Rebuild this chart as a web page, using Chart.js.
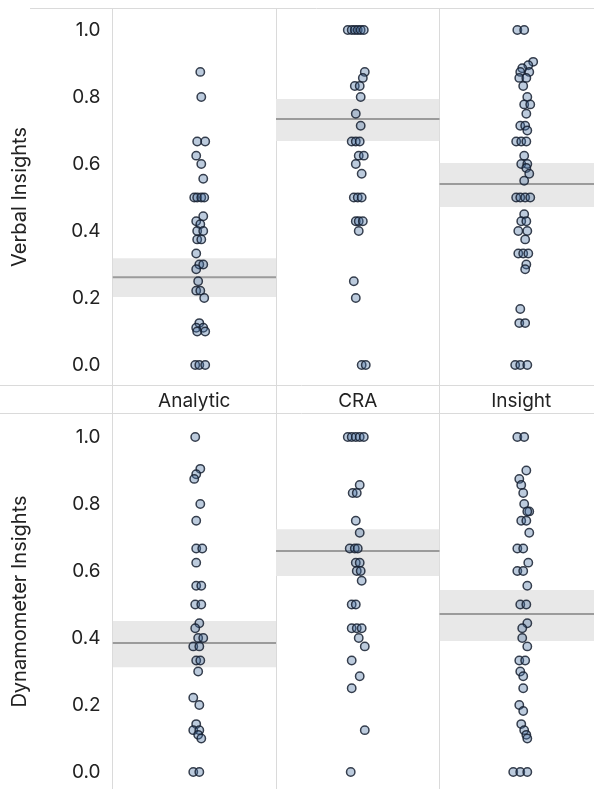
<!DOCTYPE html>
<html>
<head>
<meta charset="utf-8">
<script src="https://cdn.jsdelivr.net/npm/chart.js@4.4.1/dist/chart.umd.min.js"></script>
<style>
  html, body { margin: 0; padding: 0; background: #fff; overflow: hidden; width: 594px; height: 789px; }
  .panel { position: absolute; left: 0; }
  #verbalWrap { top: 0; }
  #dynWrap { top: 414px; }
</style>
</head>
<body>
<div id="verbalWrap" class="panel"><canvas id="verbal" width="603" height="414"></canvas></div>
<div id="dynWrap" class="panel"><canvas id="dyn" width="603" height="375"></canvas></div>
<script>
// Conditions shown as columns, and the y tick values
const categories = ['Analytic', 'CRA', 'Insight'];
const yTicks = [0, 0.2, 0.4, 0.6, 0.8, 1.0];

// Verbal insights: proportion per participant (y) and horizontal jitter within the column
const verbalAnalyticY = [0.875, 0.8, 0.667, 0.667, 0.625, 0.6, 0.556, 0.5, 0.5, 0.5, 0.5, 0.444, 0.429, 0.42, 0.4, 0.4, 0.375, 0.375, 0.333, 0.3, 0.3, 0.286, 0.25, 0.222, 0.222, 0.2, 0.125, 0.111, 0.111, 0.1, 0.1, 0, 0, 0];
const verbalAnalyticJitter = [0.037, 0.043, 0.018, 0.067, 0.012, 0.043, 0.055, 0.0, 0.018, 0.043, 0.061, 0.055, 0.012, 0.037, 0.018, 0.055, 0.018, 0.043, 0.012, 0.031, 0.055, 0.012, 0.024, 0.012, 0.037, 0.061, 0.031, 0.012, 0.055, 0.018, 0.067, 0.006, 0.031, 0.067];

const verbalCraY = [1, 1, 1, 1, 1, 1, 0.875, 0.857, 0.833, 0.833, 0.8, 0.75, 0.714, 0.667, 0.667, 0.667, 0.625, 0.625, 0.6, 0.571, 0.5, 0.5, 0.5, 0.429, 0.429, 0.429, 0.4, 0.25, 0.2, 0, 0];
const verbalCraJitter = [-0.061, -0.037, -0.018, 0, 0.018, 0.037, 0.043, 0.031, -0.018, 0.012, 0.018, -0.012, 0.018, -0.037, -0.012, 0.012, 0.006, 0.037, -0.012, 0.024, -0.024, 0, 0.024, -0.012, 0.006, 0.031, 0.006, -0.024, -0.012, 0.024, 0.049];

const verbalInsightY = [1, 1, 0.905, 0.895, 0.886, 0.875, 0.875, 0.857, 0.857, 0.833, 0.8, 0.778, 0.778, 0.75, 0.714, 0.714, 0.7, 0.667, 0.667, 0.667, 0.625, 0.6, 0.6, 0.588, 0.571, 0.55, 0.5, 0.5, 0.5, 0.5, 0.45, 0.429, 0.429, 0.4, 0.4, 0.375, 0.333, 0.333, 0.333, 0.3, 0.286, 0.167, 0.125, 0.125, 0, 0, 0];
const verbalInsightJitter = [-0.024, 0.018, 0.073, 0.043, 0.006, -0.006, 0.049, -0.012, 0.031, 0.012, 0.037, 0.018, 0.055, 0.031, -0.006, 0.024, 0.037, -0.031, 0, 0.031, 0.018, 0, 0.037, 0.031, 0.049, 0.018, -0.031, -0.006, 0.024, 0.055, 0.018, 0, 0.031, -0.018, 0.037, 0.024, -0.018, 0.012, 0.043, 0.031, 0.024, -0.006, -0.012, 0.024, -0.037, -0.006, 0.037];

// Dynamometer insights
const dynAnalyticY = [1, 0.905, 0.889, 0.875, 0.8, 0.75, 0.667, 0.667, 0.625, 0.556, 0.556, 0.5, 0.5, 0.444, 0.429, 0.4, 0.4, 0.375, 0.375, 0.333, 0.333, 0.3, 0.222, 0.2, 0.143, 0.125, 0.125, 0.111, 0.1, 0, 0];
const dynAnalyticJitter = [0.006, 0.037, 0.012, 0, 0.037, 0.012, 0.012, 0.049, 0.012, 0.012, 0.043, 0.006, 0.043, 0.031, 0.006, 0.024, 0.055, -0.006, 0.031, 0.012, 0.037, 0.024, -0.006, 0.031, 0.012, -0.006, 0.031, 0.024, 0.043, -0.006, 0.031];

const dynCraY = [1, 1, 1, 1, 1, 0.857, 0.833, 0.833, 0.75, 0.714, 0.667, 0.667, 0.667, 0.625, 0.625, 0.6, 0.6, 0.571, 0.5, 0.5, 0.429, 0.429, 0.429, 0.4, 0.375, 0.333, 0.286, 0.25, 0.125, 0];
const dynCraJitter = [-0.061, -0.037, -0.012, 0.012, 0.037, 0.012, -0.031, -0.006, -0.012, 0.012, -0.049, -0.018, 0, -0.012, 0.012, -0.006, 0.018, 0.024, -0.037, -0.012, -0.037, -0.006, 0.024, 0.006, 0.043, -0.037, 0.012, -0.037, 0.043, -0.043];

const dynInsightY = [1, 1, 0.9, 0.875, 0.857, 0.833, 0.8, 0.778, 0.778, 0.75, 0.75, 0.714, 0.667, 0.667, 0.625, 0.6, 0.6, 0.556, 0.5, 0.5, 0.444, 0.429, 0.4, 0.375, 0.333, 0.333, 0.3, 0.286, 0.25, 0.2, 0.182, 0.143, 0.125, 0.111, 0.1, 0, 0, 0];
const dynInsightJitter = [-0.024, 0.018, 0.031, -0.012, 0, 0.012, 0.018, 0.049, 0.037, 0, 0.031, 0.049, -0.024, 0.012, 0.043, -0.024, 0.012, 0.037, -0.006, 0.031, 0.037, 0.006, 0.006, 0.037, -0.012, 0.024, -0.006, 0.012, 0.012, -0.012, 0.012, 0, 0.018, 0.031, 0.037, -0.049, -0.006, 0.037];

// Condition means with their confidence bands
const verbalMean = [0.262, 0.734, 0.540];
const verbalLow = [0.203, 0.669, 0.472];
const verbalHigh = [0.319, 0.794, 0.603];
const dynMean = [0.385, 0.660, 0.472];
const dynLow = [0.313, 0.585, 0.391];
const dynHigh = [0.451, 0.725, 0.543];

const FONT = 'Inter, "Liberation Sans", Arial, sans-serif';
const GRID = '#dadada';
const TEXT = '#222';

// Horizontal separators: panel top and the condition strip
const frameLines = {
  id: 'frameLines',
  afterDraw(chart, args, opts) {
    if (!opts.enabled) return;
    const { ctx, chartArea } = chart;
    ctx.save();
    ctx.strokeStyle = GRID;
    ctx.lineWidth = 1;
    const lines = [
      { y: Math.round(chartArea.top) + 0.5, x0: 30 },
      { y: Math.round(chartArea.bottom) - 0.5, x0: 0 },
      { y: chart.height - 0.5, x0: 0 }
    ];
    for (const l of lines) {
      ctx.beginPath();
      ctx.moveTo(l.x0, l.y);
      ctx.lineTo(chart.width, l.y);
      ctx.stroke();
    }
    ctx.restore();
  }
};

// Keep the plot area edge-to-edge: tick labels may overhang it
function noOverhang(ax) {
  ax.paddingTop = 0;
  ax.paddingBottom = 0;
  ax.paddingLeft = 0;
  ax.paddingRight = 0;
}

function buildDatasets(groups, mean, low, high) {
  const sets = [];
  groups.forEach((g, i) => {
    sets.push({
      type: 'line',
      data: [{ x: i - 0.5, y: high[i] }, { x: i + 0.5, y: high[i] }],
      borderWidth: 0,
      borderColor: 'rgba(0,0,0,0)',
      backgroundColor: '#e8e8e8',
      fill: { value: low[i] },
      pointRadius: 0,
      order: 3
    });
    sets.push({
      type: 'line',
      data: [{ x: i - 0.5, y: mean[i] }, { x: i + 0.5, y: mean[i] }],
      borderWidth: 2,
      borderColor: '#9b9b9b',
      fill: false,
      pointRadius: 0,
      order: 2
    });
    sets.push({
      type: 'scatter',
      data: g.y.map((v, k) => ({ x: i + g.jitter[k], y: v })),
      pointRadius: 4.2,
      pointHoverRadius: 4.2,
      backgroundColor: 'rgba(70,110,160,0.36)',
      borderColor: 'rgba(22,32,48,0.85)',
      borderWidth: 1.5,
      order: 1
    });
  });
  return sets;
}

function makePanel(canvasId, title, groups, mean, low, high, withStrip, yMin, yMax) {
  const xScale = withStrip ? {
    type: 'linear', min: -0.5, max: 2.5, position: 'bottom',
    afterBuildTicks: ax => { ax.ticks = [-0.5, 0, 0.5, 1, 1.5, 2, 2.5].map(v => ({ value: v })); },
    ticks: {
      autoSkip: false, maxRotation: 0, minRotation: 0,
      callback: v => Number.isInteger(v) ? categories[v] : '',
      font: { family: FONT, size: 19 }, color: TEXT, padding: -24
    },
    grid: {
      color: c => (c.tick && Number.isInteger(c.tick.value)) ? 'rgba(0,0,0,0)' : GRID,
      tickColor: c => (c.tick && Number.isInteger(c.tick.value)) ? 'rgba(0,0,0,0)' : GRID,
      drawTicks: true, tickLength: 28, lineWidth: 1
    },
    border: { display: false },
    afterFit: ax => { ax.height = 28; noOverhang(ax); }
  } : {
    type: 'linear', min: -0.5, max: 2.5, position: 'bottom',
    afterBuildTicks: ax => { ax.ticks = [-0.5, 0.5, 1.5, 2.5].map(v => ({ value: v })); },
    ticks: { display: false },
    grid: { color: GRID, drawTicks: false, lineWidth: 1 },
    border: { display: false },
    afterFit: ax => { ax.height = 0; noOverhang(ax); }
  };

  return new Chart(document.getElementById(canvasId), {
    type: 'scatter',
    data: { datasets: buildDatasets(groups, mean, low, high) },
    plugins: [frameLines],
    options: {
      responsive: false,
      animation: false,
      events: [],
      layout: { autoPadding: false, padding: { top: withStrip ? 8 : 0, left: 0, right: 0, bottom: 0 } },
      plugins: {
        legend: { display: false },
        tooltip: { enabled: false },
        frameLines: { enabled: withStrip }
      },
      scales: {
        x: xScale,
        y: {
          type: 'linear', position: 'left', min: yMin, max: yMax,
          afterBuildTicks: ax => { ax.ticks = yTicks.map(v => ({ value: v })); },
          ticks: { callback: v => v.toFixed(1), font: { family: FONT, size: 19 }, color: TEXT, padding: 4 },
          grid: { display: false },
          border: { display: true, color: GRID, width: 1 },
          title: { display: true, text: title, font: { family: FONT, size: 20 }, color: TEXT, padding: { top: 8, bottom: 0 } },
          afterFit: ax => { ax.width = 112.5; noOverhang(ax); }
        }
      }
    }
  });
}

makePanel('verbal', 'Verbal Insights',
  [{ y: verbalAnalyticY, jitter: verbalAnalyticJitter },
   { y: verbalCraY, jitter: verbalCraJitter },
   { y: verbalInsightY, jitter: verbalInsightJitter }],
  verbalMean, verbalLow, verbalHigh, true, -0.0627, 1.0657);

makePanel('dyn', 'Dynamometer Insights',
  [{ y: dynAnalyticY, jitter: dynAnalyticJitter },
   { y: dynCraY, jitter: dynCraJitter },
   { y: dynInsightY, jitter: dynInsightJitter }],
  dynMean, dynLow, dynHigh, false, -0.0507, 1.0687);
</script>
</body>
</html>
